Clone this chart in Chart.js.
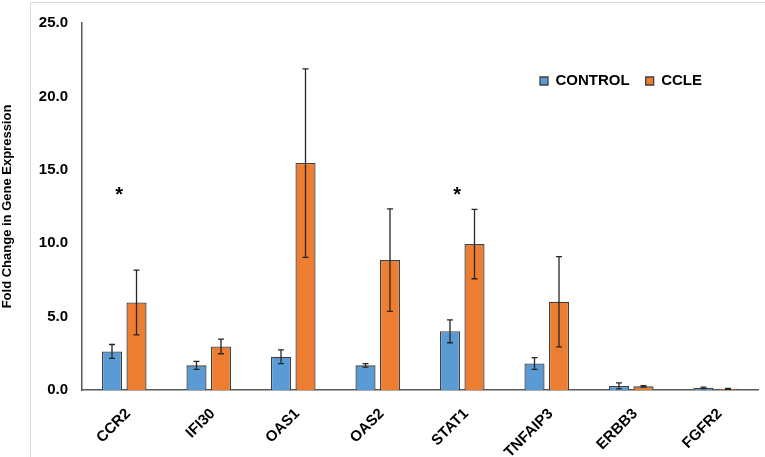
<!DOCTYPE html>
<html>
<head>
<meta charset="utf-8">
<script src="https://cdn.jsdelivr.net/npm/chart.js@4/dist/chart.umd.min.js"></script>
<style>
  html, body { margin: 0; padding: 0; background: #ffffff; }
  #wrap { width: 765px; height: 457px; position: relative; }
</style>
</head>
<body>
<div id="wrap"><canvas id="c" width="765" height="457"></canvas></div>
<script>
// ---- data ----
const categories = ['CCR2', 'IFI30', 'OAS1', 'OAS2', 'STAT1', 'TNFAIP3', 'ERBB3', 'FGFR2'];
const seriesNames = ['CONTROL', 'CCLE'];
const controlValues = [2.63, 1.68, 2.26, 1.68, 4.00, 1.81, 0.28, 0.15];
const controlErrors = [0.47, 0.27, 0.47, 0.12, 0.78, 0.40, 0.21, 0.05];
const ccleValues = [5.96, 2.97, 15.46, 8.85, 9.94, 6.01, 0.25, 0.08];
const ccleErrors = [2.20, 0.50, 6.42, 3.49, 2.36, 3.07, 0.05, 0.03];
const significantCategories = ['CCR2', 'STAT1'];
const significanceLevel = 13.65;
const yTickValues = [0, 5, 10, 15, 20, 25];
const yAxisTitle = 'Fold Change in Gene Expression';

const FONT = '"Liberation Sans", Arial, sans-serif';
const errorsBySeries = [controlErrors, ccleErrors];

// error bars drawn through the chart's own scales
const errorBarPlugin = {
  id: 'errorBars',
  afterDatasetsDraw(chart) {
    const ctx = chart.ctx;
    const y = chart.scales.y;
    ctx.save();
    ctx.strokeStyle = '#262626';
    ctx.lineWidth = 1.3;
    chart.data.datasets.forEach((ds, di) => {
      const meta = chart.getDatasetMeta(di);
      const errs = errorsBySeries[di];
      meta.data.forEach((bar, i) => {
        const v = ds.data[i];
        const e = errs[i];
        const yTop = y.getPixelForValue(v + e);
        const yBot = y.getPixelForValue(Math.max(0, v - e));
        const x = bar.x;
        ctx.beginPath();
        ctx.moveTo(x, yTop); ctx.lineTo(x, yBot);
        ctx.moveTo(x - 3, yTop); ctx.lineTo(x + 3, yTop);
        ctx.moveTo(x - 3, yBot); ctx.lineTo(x + 3, yBot);
        ctx.stroke();
      });
    });
    ctx.restore();
  }
};

// significance asterisks
const asteriskPlugin = {
  id: 'asterisks',
  afterDatasetsDraw(chart) {
    const ctx = chart.ctx;
    const xs = chart.scales.x, ys = chart.scales.y;
    ctx.save();
    ctx.fillStyle = '#000';
    ctx.font = 'bold 20px ' + FONT;
    ctx.textAlign = 'center';
    ctx.textBaseline = 'alphabetic';
    significantCategories.forEach(cat => {
      const idx = categories.indexOf(cat);
      const x = xs.getPixelForValue(idx) - 5;
      const yy = ys.getPixelForValue(significanceLevel) + 11;
      ctx.fillText('*', x, yy);
    });
    ctx.restore();
  }
};

// faint outer frame
const framePlugin = {
  id: 'frame',
  beforeDraw(chart) {
    const ctx = chart.ctx;
    ctx.save();
    ctx.strokeStyle = '#d9d9d9';
    ctx.lineWidth = 1;
    ctx.beginPath();
    ctx.moveTo(30.5, chart.height);
    ctx.lineTo(30.5, 2.5);
    ctx.lineTo(chart.width, 2.5);
    ctx.stroke();
    ctx.restore();
  }
};

// legend placed inside the plot area without taking layout space
const legendPlacePlugin = {
  id: 'legendPlace',
  beforeLayout(chart) {
    const lg = chart.legend;
    if (lg && !lg._patched) {
      const fit = lg.fit;
      lg.fit = function () { fit.call(this); this.height = 0; };
      lg._patched = true;
    }
  },
  afterLayout(chart) {
    const lg = chart.legend;
    if (!lg) return;
    const pad = lg.options.labels.padding;
    lg.left = 540 - pad;
    lg.right = chart.width;
    lg.top = 81 - 7.5 - pad;
    lg.bottom = lg.top + 40;
    lg.width = lg.right - lg.left;
    lg.height = 40;
  }
};

new Chart(document.getElementById('c'), {
  type: 'bar',
  data: {
    labels: categories,
    datasets: [
      {
        label: seriesNames[0],
        data: controlValues,
        backgroundColor: '#5b9bd5',
        borderColor: '#404040',
        borderWidth: 1.3
      },
      {
        label: seriesNames[1],
        data: ccleValues,
        backgroundColor: '#ed7d31',
        borderColor: '#404040',
        borderWidth: 1.3
      }
    ]
  },
  options: {
    responsive: false,
    animation: false,
    devicePixelRatio: 1,
    layout: { padding: { left: 0, right: 7, top: 17, bottom: 0 } },
    datasets: { bar: { categoryPercentage: 0.58, barPercentage: 0.82 } },
    plugins: {
      tooltip: { enabled: false },
      legend: {
        position: 'top',
        align: 'start',
        labels: {
          boxWidth: 8,
          boxHeight: 8,
          padding: 16,
          color: '#000',
          font: { family: FONT, size: 15, weight: 'bold' }
        }
      }
    },
    scales: {
      x: {
        grid: { display: false, drawTicks: false },
        border: { display: true, color: '#595959', width: 1.5 },
        ticks: {
          color: '#000',
          font: { family: FONT, size: 15, weight: 'bold' },
          minRotation: 45,
          maxRotation: 45,
          padding: 15,
          labelOffset: 4,
          autoSkip: false
        },
        afterFit(scale) { scale.height = 67; }
      },
      y: {
        min: 0,
        max: 25,
        grid: { display: false, drawTicks: false },
        border: { display: true, color: '#595959', width: 1.5 },
        afterBuildTicks(scale) { scale.ticks = yTickValues.map(v => ({ value: v })); },
        ticks: {
          color: '#000',
          font: { family: FONT, size: 15, weight: 'bold' },
          padding: 14,
          callback: v => Number(v).toFixed(1)
        },
        title: {
          display: true,
          text: yAxisTitle,
          color: '#000',
          font: { family: FONT, size: 13, weight: 'bold' },
          padding: { top: 0, bottom: 0 }
        },
        afterFit(scale) { scale.width = 82; }
      }
    }
  },
  plugins: [framePlugin, legendPlacePlugin, errorBarPlugin, asteriskPlugin]
});
</script>
</body>
</html>
